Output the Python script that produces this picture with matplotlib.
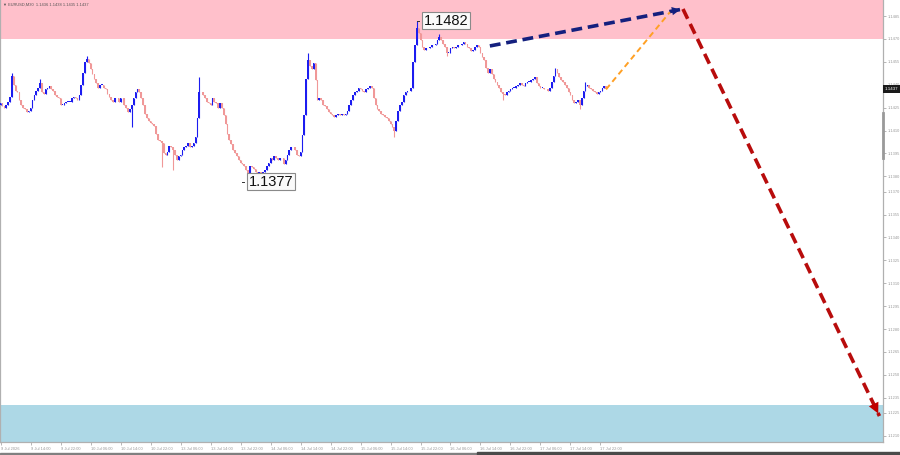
import matplotlib
matplotlib.use('Agg')
import matplotlib.pyplot as plt
import matplotlib.transforms as mtransforms
from matplotlib.patches import Rectangle

# EURUSD M30, closes (bar 0 = 9 Jul 06:00)
closes = [
    1.1428, 1.1426, 1.1425, 1.1427, 1.1429, 1.1432, 1.1446, 1.1440, 1.1436, 1.1435,
    1.1430, 1.1427, 1.1425, 1.1424, 1.1422, 1.1423, 1.1425, 1.1430, 1.1433, 1.1436,
    1.1438, 1.1441, 1.1435, 1.1434, 1.1437, 1.1438, 1.1439, 1.1437, 1.1436, 1.1433,
    1.1432, 1.1431, 1.1427, 1.1427, 1.1428, 1.1429, 1.1429, 1.1429, 1.1431, 1.1432,
    1.1431, 1.1430, 1.1433, 1.1440, 1.1448, 1.1455, 1.1457, 1.1454, 1.1450, 1.1447,
    1.1444, 1.1441, 1.1438, 1.1440, 1.1440, 1.1438, 1.1437, 1.1434, 1.1432, 1.1430,
    1.1429, 1.1431, 1.1431, 1.1429, 1.1431, 1.1431, 1.1427, 1.1425, 1.1422, 1.1424,
    1.1427, 1.1431, 1.1435, 1.1437, 1.1435, 1.1431, 1.1427, 1.1421, 1.1418, 1.1416,
    1.1415, 1.1414, 1.1413, 1.1408, 1.1404, 1.1403, 1.1402, 1.1395, 1.1394, 1.1396,
    1.1400, 1.1399, 1.1397, 1.1394, 1.1391, 1.1393, 1.1394, 1.1397, 1.1399, 1.1400,
    1.1402, 1.1399, 1.1400, 1.1402, 1.1406, 1.1418, 1.1435, 1.1435, 1.1433, 1.1431,
    1.1429, 1.1428, 1.1427, 1.1431, 1.1429, 1.1428, 1.1425, 1.1428, 1.1425, 1.1420,
    1.1414, 1.1408, 1.1404, 1.1401, 1.1397, 1.1395, 1.1393, 1.1391, 1.1389, 1.1388,
    1.1387, 1.1384, 1.1381, 1.1387, 1.1386, 1.1385, 1.1383, 1.1382, 1.1383, 1.1382,
    1.1383, 1.1384, 1.1387, 1.1389, 1.1392, 1.1391, 1.1393, 1.1392, 1.1391, 1.1392,
    1.1392, 1.1388, 1.1391, 1.1394, 1.1397, 1.1399, 1.1399, 1.1397, 1.1394, 1.1393,
    1.1396, 1.1407, 1.1420, 1.1444, 1.1456, 1.1452, 1.1450, 1.1454, 1.1443, 1.1430,
    1.1431, 1.1430, 1.1427, 1.1426, 1.1424, 1.1422, 1.1421, 1.1420, 1.1419, 1.1420,
    1.1421, 1.1420, 1.1421, 1.1420, 1.1421, 1.1423, 1.1427, 1.1430, 1.1433, 1.1435,
    1.1436, 1.1438, 1.1437, 1.1436, 1.1435, 1.1437, 1.1438, 1.1439, 1.1438, 1.1431,
    1.1427, 1.1424, 1.1423, 1.1421, 1.1420, 1.1419, 1.1418, 1.1416, 1.1414, 1.1412,
    1.1410, 1.1416, 1.1423, 1.1427, 1.1429, 1.1433, 1.1435, 1.1436, 1.1436, 1.1438,
    1.1455, 1.1466, 1.1477, 1.1474, 1.1469, 1.1465, 1.1463, 1.1464, 1.1464, 1.1465,
    1.1466, 1.1466, 1.1467, 1.1469, 1.1471, 1.1469, 1.1467, 1.1465, 1.1461, 1.1461,
    1.1464, 1.1465, 1.1464, 1.1465, 1.1466, 1.1466, 1.1467, 1.1468, 1.1467, 1.1465,
    1.1464, 1.1462, 1.1463, 1.1465, 1.1466, 1.1465, 1.1461, 1.1458, 1.1456, 1.1451,
    1.1448, 1.1450, 1.1447, 1.1444, 1.1442, 1.1440, 1.1438, 1.1435, 1.1434, 1.1433,
    1.1435, 1.1436, 1.1437, 1.1438, 1.1438, 1.1439, 1.1440, 1.1441, 1.1440, 1.1439,
    1.1441, 1.1442, 1.1442, 1.1443, 1.1444, 1.1445, 1.1441, 1.1439, 1.1438, 1.1438,
    1.1437, 1.1437, 1.1436, 1.1438, 1.1442, 1.1446, 1.1450, 1.1448, 1.1445, 1.1443,
    1.1442, 1.1440, 1.1438, 1.1435, 1.1433, 1.1430, 1.1428, 1.1429, 1.1430, 1.1427,
    1.1431, 1.1436, 1.1439, 1.1440, 1.1438, 1.1437, 1.1436, 1.1435, 1.1434, 1.1435,
    1.1436, 1.1438, 1.1439, 1.1437,
]
first_open = 1.1427

# visible long wicks: bar -> (high, low)
wick_highs = {6: 1.1448, 21: 1.1444, 46: 1.1459, 106: 1.1445, 164: 1.1461,
              222: 1.1482, 234: 1.1473, 296: 1.1451, 312: 1.1442}
wick_lows = {70: 1.1412, 86: 1.1386, 92: 1.1384, 132: 1.1377, 210: 1.1406,
             238: 1.1459, 268: 1.1430, 309: 1.1424}

x_tick_bars = list(range(0, 321, 16))
x_tick_labels = ['9 Jul 2026', '9 Jul 14:00', '9 Jul 22:00', '10 Jul 06:00', '10 Jul 14:00',
                 '10 Jul 22:00', '13 Jul 06:00', '13 Jul 14:00', '13 Jul 22:00', '14 Jul 06:00',
                 '14 Jul 14:00', '14 Jul 22:00', '15 Jul 06:00', '15 Jul 14:00', '15 Jul 22:00',
                 '16 Jul 06:00', '16 Jul 14:00', '16 Jul 22:00', '17 Jul 06:00', '17 Jul 14:00',
                 '17 Jul 22:00']
y_ticks = [1.1485, 1.1470, 1.1455, 1.1440, 1.1425, 1.1410, 1.1395, 1.1380, 1.1370, 1.1355,
           1.1340, 1.1325, 1.1310, 1.1295, 1.1280, 1.1265, 1.1250, 1.1235, 1.1225, 1.1210]

resistance_zone = (1.1470, 1.1496)
support_zone = (1.1206, 1.1230)

# forecast paths (bar, price)
blue_path = [(261, 1.14654), (364, 1.14896)]
orange_path = [(323, 1.1437), (357, 1.14875)]
red_path = [(364, 1.14896), (468.8, 1.12230)]

high_label = (225.8, 1.1482)
low_label = (132.4, 1.13766)
last_price = 1.1437
title = '\u25bc EURUSD,M30  1.1436 1.1438 1.1435 1.1437'

plt.rcParams['font.family'] = ['Liberation Sans', 'DejaVu Sans']

fig = plt.figure(figsize=(9, 4.55), dpi=100)
ax = fig.add_axes([0, 13 / 455, 883 / 900, 442 / 455])
ax.set_xlim(-0.3, 470.7)
ax.set_ylim(1.12060, 1.14955)

ax.axhspan(*resistance_zone, color='#ffc0cb', lw=0, zorder=0)
ax.axhspan(*support_zone, color='#add8e6', lw=0, zorder=0)

# candles
opens = [first_open] + closes[:-1]
for i, (o, c) in enumerate(zip(opens, closes)):
    up = c >= o
    col = '#1c1cf0' if up else '#f09898'
    lo_b, hi_b = min(o, c), max(o, c)
    hi = max(hi_b, wick_highs.get(i, hi_b))
    lo = min(lo_b, wick_lows.get(i, lo_b))
    if hi > lo:
        ax.vlines(i, lo, hi, color=col, lw=0.8, zorder=2)
    ax.bar(i, max(hi_b - lo_b, 0.00002), bottom=lo_b, width=0.85,
           color=col, lw=0, zorder=3)

# forecast lines
bx, by = zip(*blue_path)
ax.plot(bx, by, color='#14207e', lw=2.6, ls=(0, (3, 1.6)), zorder=5)
ax.annotate('', xy=blue_path[1], xytext=(bx[0] + 0.93 * (bx[1] - bx[0]), by[0] + 0.93 * (by[1] - by[0])),
            arrowprops=dict(arrowstyle='-|>', color='#14207e', lw=0, mutation_scale=15), zorder=6)
ox, oy = zip(*orange_path)
ax.plot(ox, oy, color='#ffa024', lw=1.4, ls=(0, (3, 2)), zorder=5)
rx, ry = zip(*red_path)
ax.plot(rx, ry, color='#b80c0c', lw=2.6, ls=(0, (3, 1.6)), zorder=5)
ax.annotate('', xy=red_path[1], xytext=(rx[0] + 0.95 * (rx[1] - rx[0]), ry[0] + 0.95 * (ry[1] - ry[0])),
            arrowprops=dict(arrowstyle='-|>', color='#c00000', lw=0, mutation_scale=19), zorder=6)

# high / low labels
for (lx, ly) in (high_label, low_label):
    ax.plot([lx - 3.6, lx - 2.4], [ly, ly], color='#333333', lw=0.7, zorder=6)
    ax.text(lx, ly, f'{ly:.4f}', fontsize=10.5, ha='left', va='center', color='#111111', zorder=7,
            bbox=dict(boxstyle='square,pad=0.12', fc='#fafafa', ec='#8a8a8a', lw=0.8))

# axes styling
ax.spines['top'].set_visible(False)
for side in ('left', 'right', 'bottom'):
    ax.spines[side].set_color('#b0b0b0')
    ax.spines[side].set_linewidth(0.9)
ax.yaxis.tick_right()
ax.set_yticks(y_ticks)
ax.set_yticklabels([f'{v:.4f}' for v in y_ticks])
ax.set_xticks(x_tick_bars)
ax.set_xticklabels(x_tick_labels, ha='left')
ax.tick_params(axis='both', labelsize=2.9, colors='#999999', length=2, width=0.5, pad=1.2)
ax.tick_params(axis='x', pad=1.5)

# last price box on the price scale
tr = mtransforms.blended_transform_factory(ax.transAxes, ax.transData)
ax.text(1.002, last_price, f'{last_price:.4f}', transform=tr, fontsize=3.2, color='white',
        ha='left', va='center', clip_on=False, zorder=8,
        bbox=dict(boxstyle='square,pad=0.45', fc='#1a1a1a', ec='none'))
ax.plot([1, 1], [1.14215, 1.1392], transform=tr, color='#9a9a9a', lw=2, clip_on=False, zorder=7)

fig.text(3 / 900, 1 - 5 / 455, title, fontsize=2.9, color='#555555', ha='left', va='center')
fig.patches.append(Rectangle((0, 0), 1, 2 / 455, transform=fig.transFigure, color='#808080', zorder=0))
fig.patches.append(Rectangle((477 / 900, 0), 1, 3 / 455, transform=fig.transFigure, color='#4a4a4a', zorder=1))

fig.savefig('out.png', dpi=100)
